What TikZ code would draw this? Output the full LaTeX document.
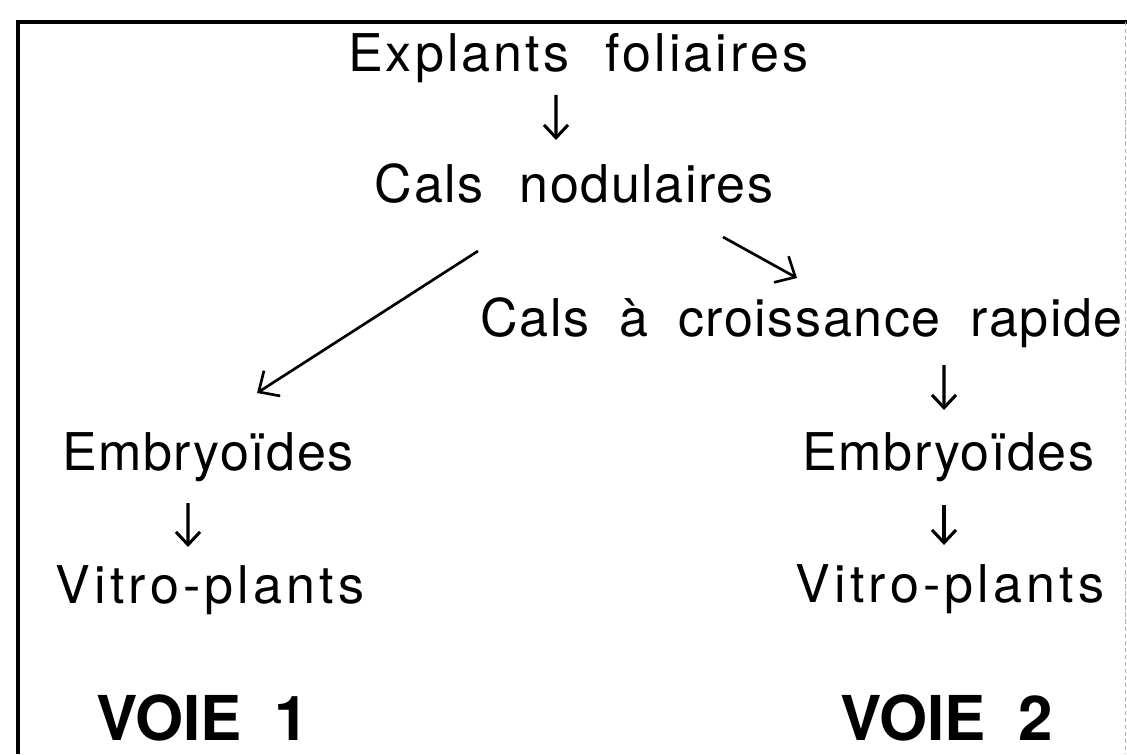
\documentclass[tikz,border=0pt]{standalone}
\usepackage{fontspec}
\setmainfont{TeX Gyre Heros}
\usetikzlibrary{arrows.meta}
\newcommand{\blanc}{\hspace{0.9cm}}

\begin{document}
\begin{tikzpicture}[
  txt/.style={anchor=base, inner sep=0pt, text depth=0pt, font=\fontsize{37}{44}\selectfont\addfontfeature{LetterSpace=3}},
  ecart/.style={txt, font=\fontsize{37}{44}\selectfont\addfontfeature{LetterSpace=#1}},
  voie/.style={anchor=base, inner sep=0pt, text depth=0pt, font=\fontsize{44}{52}\selectfont\bfseries},
  fleche/.style={line width=2.2pt, -{Straight Barb[length=0.32cm, width=0.6cm]}},
  diag/.style={line width=1.9pt, -{Straight Barb[length=0.4cm, width=0.75cm]}}]
  \useasboundingbox (0,0) rectangle (28.175,-18.85);
  % cadre
  \draw[line width=3pt] (0.45,-18.85) -- (0.45,-0.55) -- (28.175,-0.55);
  \draw[gray!60, line width=0.6pt, densely dashed] (28.125,-0.55) -- (28.125,-18.85);
  % textes
  \node[ecart=6] (explants) at (14.46,-1.80) {Explants\blanc foliaires};
  \node[txt] (calsnod) at (14.35,-5.05) {Cals\blanc nodulaires};
  \node[txt] (calscrois) at (20.04,-8.40) {Cals\hspace{0.75cm}à\hspace{0.75cm}croissance\hspace{0.75cm}rapide};
  \node[txt] (embg) at (5.20,-11.75) {Embryoïdes};
  \node[ecart=8] (vitrog) at (5.25,-15.075) {Vitro-plants};
  \node[txt] (embd) at (23.71,-11.75) {Embryoïdes};
  \node[ecart=8] (vitrod) at (23.75,-15.05) {Vitro-plants};
  \node[voie] (voie1) at (5.06,-18.50) {VOIE\hspace{0.8cm}1};
  \node[voie] (voie2) at (23.66,-18.50) {VOIE\hspace{0.8cm}2};
  % fleches
  \draw[fleche] ([shift={(-0.56,-0.575)}]explants.base) -- ([shift={(-0.45,1.55)}]calsnod.base);
  \draw[diag] ([shift={(-2.40,-1.225)}]calsnod.base) -- ([shift={(1.225,1.925)}]embg.base);
  \draw[diag] ([shift={(3.725,-0.875)}]calsnod.base) -- ([shift={(-0.115,1.45)}]calscrois.base);
  \draw[fleche] ([shift={(3.56,-0.725)}]calscrois.base) -- ([shift={(-0.11,1.50)}]embd.base);
  \draw[fleche] ([shift={(-0.11,-0.875)}]embd.base) -- ([shift={(-0.15,1.425)}]vitrod.base);
  \draw[fleche] ([shift={(-0.50,-0.825)}]embg.base) -- ([shift={(-0.55,1.40)}]vitrog.base);
\end{tikzpicture}
\end{document}
